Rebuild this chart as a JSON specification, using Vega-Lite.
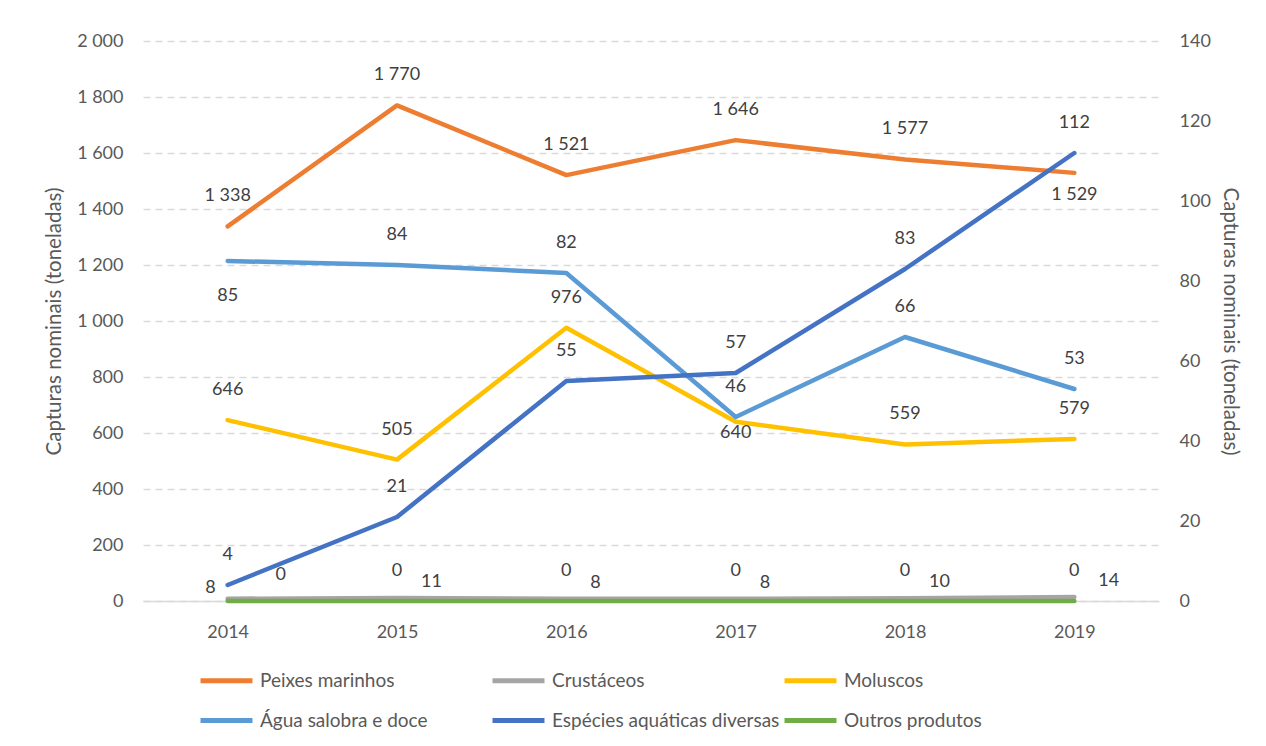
{
  "$schema": "https://vega.github.io/schema/vega-lite/v6.json",
  "width": 1016,
  "height": 560,
  "autosize": {"type": "none"},
  "padding": {"left": 143, "top": 41, "right": 107, "bottom": 145},
  "background": "white",
  "config": {
    "view": {"stroke": null},
    "locale": {"number": {"decimal": ",", "thousands": " ", "grouping": [3], "currency": ["", " €"]}},
    "font": "Lato",
    "axis": {"labelFont": "Lato", "labelFontSize": 18, "labelColor": "#595959", "titleFont": "Lato", "titleFontSize": 20.5, "titleFontWeight": "normal", "titleColor": "#595959", "ticks": false, "domain": false},
    "legend": {"labelFont": "Lato", "labelFontSize": 19, "labelColor": "#595959"}
  },
  "data": {"values": [
    {"year": "2014", "series": "Peixes marinhos", "value": 1338},
    {"year": "2015", "series": "Peixes marinhos", "value": 1770},
    {"year": "2016", "series": "Peixes marinhos", "value": 1521},
    {"year": "2017", "series": "Peixes marinhos", "value": 1646},
    {"year": "2018", "series": "Peixes marinhos", "value": 1577},
    {"year": "2019", "series": "Peixes marinhos", "value": 1529},
    {"year": "2014", "series": "Crustáceos", "value": 8},
    {"year": "2015", "series": "Crustáceos", "value": 11},
    {"year": "2016", "series": "Crustáceos", "value": 8},
    {"year": "2017", "series": "Crustáceos", "value": 8},
    {"year": "2018", "series": "Crustáceos", "value": 10},
    {"year": "2019", "series": "Crustáceos", "value": 14},
    {"year": "2014", "series": "Moluscos", "value": 646},
    {"year": "2015", "series": "Moluscos", "value": 505},
    {"year": "2016", "series": "Moluscos", "value": 976},
    {"year": "2017", "series": "Moluscos", "value": 640},
    {"year": "2018", "series": "Moluscos", "value": 559},
    {"year": "2019", "series": "Moluscos", "value": 579},
    {"year": "2014", "series": "Água salobra e doce", "value": 85},
    {"year": "2015", "series": "Água salobra e doce", "value": 84},
    {"year": "2016", "series": "Água salobra e doce", "value": 82},
    {"year": "2017", "series": "Água salobra e doce", "value": 46},
    {"year": "2018", "series": "Água salobra e doce", "value": 66},
    {"year": "2019", "series": "Água salobra e doce", "value": 53},
    {"year": "2014", "series": "Espécies aquáticas diversas", "value": 4},
    {"year": "2015", "series": "Espécies aquáticas diversas", "value": 21},
    {"year": "2016", "series": "Espécies aquáticas diversas", "value": 55},
    {"year": "2017", "series": "Espécies aquáticas diversas", "value": 57},
    {"year": "2018", "series": "Espécies aquáticas diversas", "value": 83},
    {"year": "2019", "series": "Espécies aquáticas diversas", "value": 112},
    {"year": "2014", "series": "Outros produtos", "value": 0},
    {"year": "2015", "series": "Outros produtos", "value": 0},
    {"year": "2016", "series": "Outros produtos", "value": 0},
    {"year": "2017", "series": "Outros produtos", "value": 0},
    {"year": "2018", "series": "Outros produtos", "value": 0},
    {"year": "2019", "series": "Outros produtos", "value": 0}
  ]},
  "encoding": {
    "x": {"field": "year", "type": "ordinal", "scale": {"type": "point", "padding": 0.5},
      "axis": {"title": null, "labelAngle": 0, "labelPadding": 22, "domain": true, "domainColor": "#d9d9d9", "domainWidth": 1.3, "grid": false}}
  },
  "layer": [
    {
      "transform": [{"filter": "indexof(['Peixes marinhos','Crustáceos','Moluscos'], datum.series) >= 0"}],
      "mark": {"type": "line", "strokeWidth": 4.5, "strokeCap": "round", "strokeJoin": "round"},
      "encoding": {
        "y": {"field": "value", "type": "quantitative", "scale": {"domain": [0, 2000], "nice": false},
          "axis": {"orient": "left", "title": "Capturas nominais (toneladas)", "values": [0,200,400,600,800,1000,1200,1400,1600,1800,2000], "format": ",d", "labelPadding": 20, "titlePadding": 12, "grid": true, "gridColor": "#d9d9d9", "gridDash": [7,5], "gridWidth": 1.3}},
        "color": {"field": "series", "type": "nominal",
          "scale": {"domain": ["Peixes marinhos", "Crustáceos", "Moluscos", "Água salobra e doce", "Espécies aquáticas diversas", "Outros produtos"],
                    "range": ["#ED7D31", "#A5A5A5", "#FFC000", "#5B9BD5", "#4472C4", "#70AD47"]},
          "legend": {"title": null, "orient": "none", "legendX": 55, "legendY": 611, "direction": "horizontal", "columns": 3, "gridAlign": "all", "columnPadding": -6, "rowPadding": 1, "padding": 0, "symbolType": "stroke", "symbolSize": 2700, "symbolStrokeWidth": 5, "labelOffset": 5, "labelLimit": 400}}
      }
    },
    {
      "transform": [{"filter": "indexof(['Água salobra e doce','Espécies aquáticas diversas','Outros produtos'], datum.series) >= 0"}],
      "mark": {"type": "line", "strokeWidth": 4.5, "strokeCap": "round", "strokeJoin": "round"},
      "encoding": {
        "y": {"field": "value", "type": "quantitative", "scale": {"domain": [0, 140], "nice": false},
          "axis": {"orient": "right", "title": "Capturas nominais (toneladas)", "values": [0,20,40,60,80,100,120,140], "format": ",d", "labelPadding": 20, "titlePadding": 9, "grid": false}},
        "color": {"field": "series", "type": "nominal"}
      }
    },
    {
      "transform": [{"filter": "(datum.series == 'Peixes marinhos' && datum.year != '2019') || (datum.series == 'Moluscos' && datum.year != '2017')"}],
      "mark": {"type": "text", "fontSize": 18, "font": "Lato", "color": "#404040", "baseline": "middle", "align": "center", "dy": -30},
      "encoding": {"y": {"field": "value", "type": "quantitative", "scale": {"domain": [0, 2000], "nice": false}, "axis": null}, "text": {"field": "value", "type": "quantitative", "format": ",d"}}
    },
    {
      "transform": [{"filter": "datum.series == 'Peixes marinhos' && datum.year == '2019'"}],
      "mark": {"type": "text", "fontSize": 18, "font": "Lato", "color": "#404040", "baseline": "middle", "align": "center", "dy": 22},
      "encoding": {"y": {"field": "value", "type": "quantitative", "scale": {"domain": [0, 2000], "nice": false}, "axis": null}, "text": {"field": "value", "type": "quantitative", "format": ",d"}}
    },
    {
      "transform": [{"filter": "datum.series == 'Moluscos' && datum.year == '2017'"}],
      "mark": {"type": "text", "fontSize": 18, "font": "Lato", "color": "#404040", "baseline": "middle", "align": "center", "dy": 11},
      "encoding": {"y": {"field": "value", "type": "quantitative", "scale": {"domain": [0, 2000], "nice": false}, "axis": null}, "text": {"field": "value", "type": "quantitative", "format": ",d"}}
    },
    {
      "transform": [{"filter": "datum.series == 'Crustáceos' && datum.year == '2014'"}],
      "mark": {"type": "text", "fontSize": 18, "font": "Lato", "color": "#404040", "baseline": "middle", "align": "right", "dx": -12, "dy": -11},
      "encoding": {"y": {"field": "value", "type": "quantitative", "scale": {"domain": [0, 2000], "nice": false}, "axis": null}, "text": {"field": "value", "type": "quantitative", "format": ",d"}}
    },
    {
      "transform": [{"filter": "datum.series == 'Crustáceos' && datum.year != '2014'"}],
      "mark": {"type": "text", "fontSize": 18, "font": "Lato", "color": "#404040", "baseline": "middle", "align": "left", "dx": 24, "dy": -16},
      "encoding": {"y": {"field": "value", "type": "quantitative", "scale": {"domain": [0, 2000], "nice": false}, "axis": null}, "text": {"field": "value", "type": "quantitative", "format": ",d"}}
    },
    {
      "transform": [{"filter": "(datum.series == 'Água salobra e doce' && datum.year != '2014') || datum.series == 'Espécies aquáticas diversas' || (datum.series == 'Outros produtos' && datum.year != '2014')"}],
      "mark": {"type": "text", "fontSize": 18, "font": "Lato", "color": "#404040", "baseline": "middle", "align": "center", "dy": -30},
      "encoding": {"y": {"field": "value", "type": "quantitative", "scale": {"domain": [0, 140], "nice": false}, "axis": null}, "text": {"field": "value", "type": "quantitative", "format": ",d"}}
    },
    {
      "transform": [{"filter": "datum.series == 'Água salobra e doce' && datum.year == '2014'"}],
      "mark": {"type": "text", "fontSize": 18, "font": "Lato", "color": "#404040", "baseline": "middle", "align": "center", "dy": 35},
      "encoding": {"y": {"field": "value", "type": "quantitative", "scale": {"domain": [0, 140], "nice": false}, "axis": null}, "text": {"field": "value", "type": "quantitative", "format": ",d"}}
    },
    {
      "transform": [{"filter": "datum.series == 'Outros produtos' && datum.year == '2014'"}],
      "mark": {"type": "text", "fontSize": 18, "font": "Lato", "color": "#404040", "baseline": "middle", "align": "center", "dx": 53, "dy": -26},
      "encoding": {"y": {"field": "value", "type": "quantitative", "scale": {"domain": [0, 140], "nice": false}, "axis": null}, "text": {"field": "value", "type": "quantitative", "format": ",d"}}
    }
  ],
  "resolve": {"scale": {"y": "independent"}}
}
